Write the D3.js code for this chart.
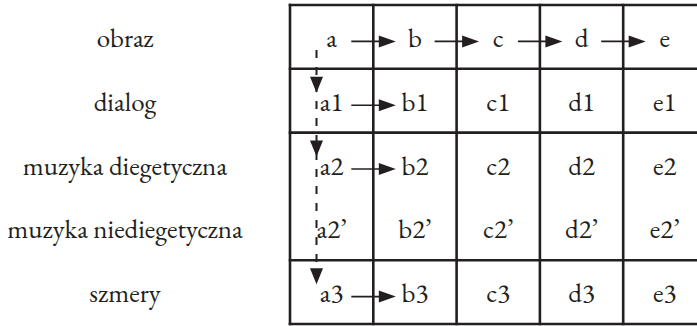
<!DOCTYPE html>
<html><head><meta charset="utf-8">
<script src="https://cdn.jsdelivr.net/npm/d3@7"></script>
<style>
html,body{margin:0;padding:0;background:#fff;}
svg{display:block;}
text{font-family:"EB Garamond","Liberation Serif","Times New Roman",serif;fill:#231f20;}
</style></head>
<body>
<svg id="chart" width="697" height="326"></svg>
<script>
// ---- data ----
const rowLabels = ["obraz", "dialog", "muzyka diegetyczna", "muzyka niediegetyczna", "szmery"];
const columns = ["a", "b", "c", "d", "e"];
const rowSuffixes = ["", "1", "2", "2\u2019", "3"];
// horizontal arrows: [row index, from column]
const hArrows = [[0, "a"], [0, "b"], [0, "c"], [0, "d"], [1, "a"], [2, "a"], [4, "a"]];
// rows reached by the dashed vertical arrow
const vArrowRows = [1, 2, 4];
// row boundaries drawn without a line (boundary above this row index)
const hiddenBoundaries = [3];

// ---- layout ----
const svg = d3.select("#chart");
const ink = "#231f20";
const x = d3.scaleBand().domain(columns).range([290, 706.5]);
const y = d3.scaleBand().domain(d3.range(rowLabels.length)).range([5, 324]);
const fs = 27;

// row labels
svg.append("g").selectAll("text").data(rowLabels).join("text")
  .attr("x", 125).attr("y", (d, i) => y(i) + y.bandwidth() / 2 + 10)
  .attr("text-anchor", "middle").style("font-size", fs + "px").text(d => d);

// grid lines
const g = svg.append("g").attr("stroke", ink).attr("stroke-width", 2.6).attr("fill", "none");
const x0 = x.range()[0], x1 = x.range()[1];
const yb = d3.range(rowLabels.length + 1).map(i => i < rowLabels.length ? y(i) : y.range()[1]);
g.selectAll("line.h").data(yb.map((v, i) => ({v, i})).filter(d => !hiddenBoundaries.includes(d.i)))
  .join("line").attr("class", "h")
  .attr("x1", x0 - 1.3).attr("x2", x1).attr("y1", d => d.v).attr("y2", d => d.v);
const xb = columns.map(c => x(c)).concat([x1]);
g.selectAll("line.v").data(xb).join("line").attr("class", "v")
  .attr("x1", d => d).attr("x2", d => d).attr("y1", yb[0] - 1.3).attr("y2", yb[yb.length - 1] + 1.3);

// cell texts
const cells = [];
rowSuffixes.forEach((s, r) => columns.forEach(c => cells.push({r, c, t: c + s})));
svg.append("g").selectAll("text").data(cells).join("text")
  .attr("x", d => x(d.c) + x.bandwidth() / 2)
  .attr("y", d => y(d.r) + y.bandwidth() / 2 + 10)
  .attr("text-anchor", "middle").style("font-size", fs + "px").text(d => d.t);

// horizontal arrows (cross the column boundary)
const ha = svg.append("g");
hArrows.forEach(([r, c]) => {
  const bx = x(c) + x.bandwidth();
  const cy = y(r) + y.bandwidth() / 2 + 4.5;
  const xs = bx - 22, xt = bx + 22.5;
  ha.append("line").attr("x1", xs).attr("x2", xt - 10).attr("y1", cy).attr("y2", cy)
    .attr("stroke", ink).attr("stroke-width", 1.6);
  ha.append("path").attr("d", `M${xt},${cy} L${xt - 17},${cy - 6} L${xt - 17},${cy + 6} Z`).attr("fill", ink);
});

// dashed vertical arrow
const vx = x(columns[0]) + 26.5;
const tips = vArrowRows.map(r => y(r) + 24);
svg.append("line").attr("x1", vx).attr("x2", vx).attr("y1", 50).attr("y2", tips[tips.length - 1] - 8)
  .attr("stroke", ink).attr("stroke-width", 2).attr("stroke-dasharray", "8,9");
svg.append("g").selectAll("path").data(tips).join("path")
  .attr("d", t => `M${vx},${t} L${vx - 6.5},${t - 16} L${vx + 6.5},${t - 16} Z`).attr("fill", ink);
</script>
</body></html>
